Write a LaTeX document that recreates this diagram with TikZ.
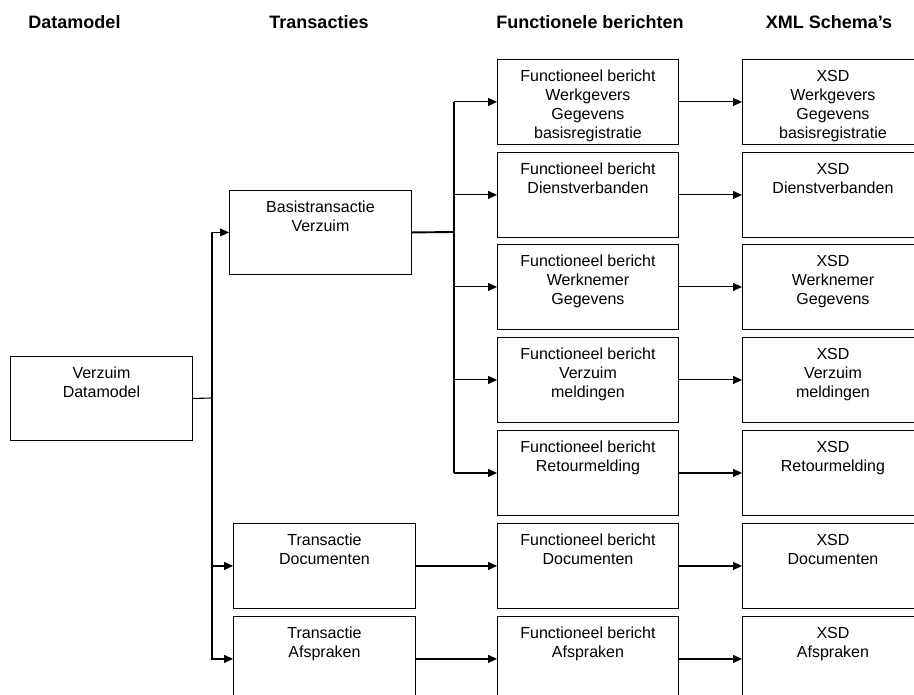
\documentclass[tikz,border=0pt]{standalone}
\usepackage{fontspec}
\setmainfont{Liberation Sans}
\usetikzlibrary{arrows.meta}
\newcommand\bxt[3]{\parbox[c][#2pt][t]{#1pt}{\fontsize{16}{19}\selectfont\centering\vspace*{8.5pt}\strut #3}}
\begin{document}
\begin{tikzpicture}[x=1pt,y=-1pt,
  box/.style={draw=black,line width=0.9pt,inner sep=0pt,anchor=north west,fill=white},
  hdr/.style={font=\fontsize{18}{21}\selectfont\bfseries,anchor=base,inner sep=0pt},
  conn/.style={line width=1.1pt},
  trunk/.style={line width=1.9pt},
  arr/.style={line width=1.1pt,-{Triangle[length=9pt,width=8pt]}}]
\useasboundingbox (0,0) rectangle (914,695);
% headers
\node[hdr] (h1) at (74.5,29) {Datamodel};
\node[hdr] (h2) at (319,29) {Transacties};
\node[hdr] (h3) at (590,29) {Functionele berichten};
\node[hdr] (h4) at (829,29) {XML Schema’s};
% datamodel
\node[box] (dm) at (10,356) {\bxt{182}{84}{Verzuim\\Datamodel}};
% transactions
\node[box] (bt) at (229,190) {\bxt{182}{84}{Basistransactie\\Verzuim}};
\node[box] (td) at (233,523) {\bxt{182}{85}{Transactie\\Documenten}};
\node[box] (ta) at (233,616) {\bxt{182}{85}{Transactie\\Afspraken}};
% functional messages
\node[box] (f1) at (497,59) {\bxt{181}{85}{Functioneel bericht\\Werkgevers\\Gegevens\\basisregistratie}};
\node[box] (f2) at (497,152) {\bxt{181}{85}{Functioneel bericht\\Dienstverbanden}};
\node[box] (f3) at (497,244) {\bxt{181}{85}{Functioneel bericht\\Werknemer\\Gegevens}};
\node[box] (f4) at (497,337) {\bxt{181}{85}{Functioneel bericht\\Verzuim\\meldingen}};
\node[box] (f5) at (497,430) {\bxt{181}{85}{Functioneel bericht\\Retourmelding}};
\node[box] (f6) at (497,523) {\bxt{181}{85}{Functioneel bericht\\Documenten}};
\node[box] (f7) at (497,616) {\bxt{181}{85}{Functioneel bericht\\Afspraken}};
% XSD
\node[box] (x1) at (742,59) {\bxt{181}{85}{XSD\\Werkgevers\\Gegevens\\basisregistratie}};
\node[box] (x2) at (742,152) {\bxt{181}{85}{XSD\\Dienstverbanden}};
\node[box] (x3) at (742,244) {\bxt{181}{85}{XSD\\Werknemer\\Gegevens}};
\node[box] (x4) at (742,337) {\bxt{181}{85}{XSD\\Verzuim\\meldingen}};
\node[box] (x5) at (742,430) {\bxt{181}{85}{XSD\\Retourmelding}};
\node[box] (x6) at (742,523) {\bxt{181}{85}{XSD\\Documenten}};
\node[box] (x7) at (742,616) {\bxt{181}{85}{XSD\\Afspraken}};
% datamodel trunk
\coordinate (j1) at (212,398);
\draw[conn] (dm.east) -- (j1);
\draw[arr] (j1) |- (bt.west);
\draw[arr] (j1) |- (td.west);
\draw[arr] (j1) |- (ta.west);
% basis trunk
\coordinate (j2) at (454,232);
\draw[trunk] (bt.east) -- (j2);
\draw[trunk] (j2 |- f1.west) -- (j2 |- f5.west);
\foreach \i in {1,...,5}{\draw[arr] (j2 |- f\i.west) -- (f\i.west);}
\draw[arr] (td.east) -- (f6.west);
\draw[arr] (ta.east) -- (f7.west);
\foreach \i in {1,...,7}{\draw[arr] (f\i.east) -- (x\i.west);}
\end{tikzpicture}
\end{document}
